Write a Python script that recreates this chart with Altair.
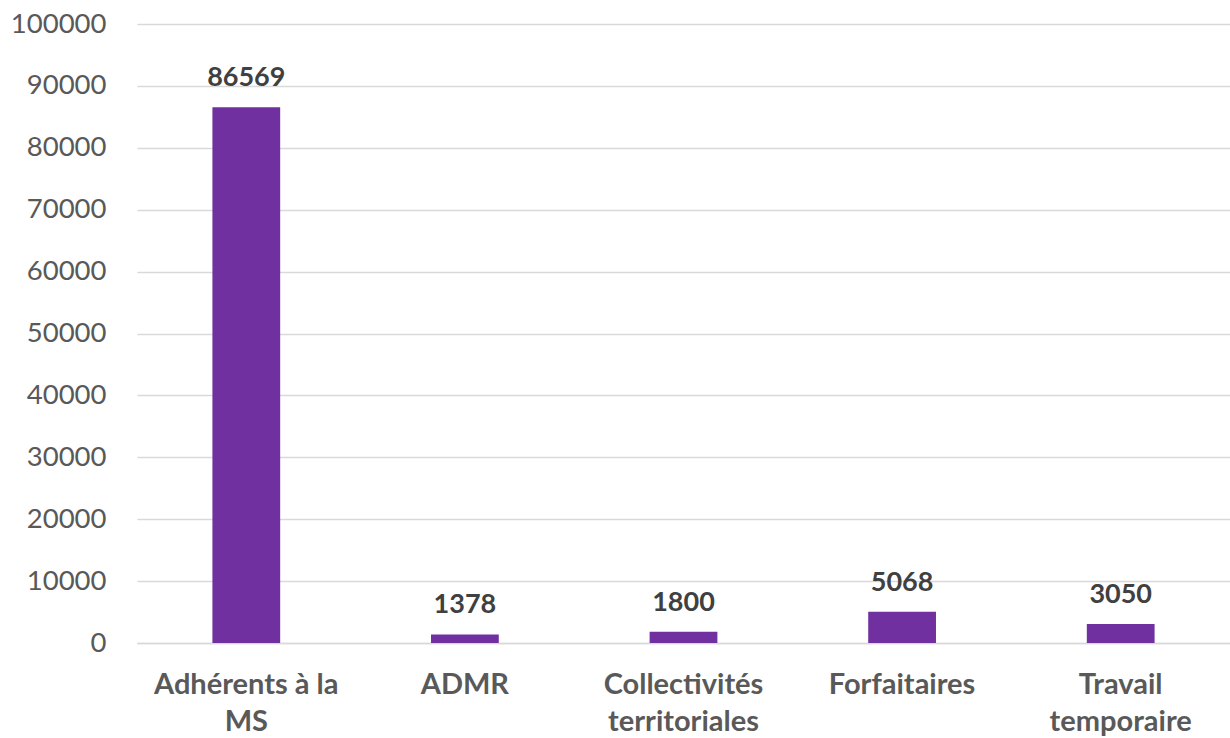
import altair as alt
import pandas as pd

categories = ["Adhérents à la|MS", "ADMR", "Collectivités|territoriales", "Forfaitaires", "Travail|temporaire"]
values = [86569, 1378, 1800, 5068, 3050]

df = pd.DataFrame({"cat": categories, "val": values})

FONT = "Lato"

base = alt.Chart(df).encode(
    x=alt.X("cat:N", sort=None, title=None,
            scale=alt.Scale(paddingInner=0.69, paddingOuter=0.345),
            axis=alt.Axis(labelAngle=0, labelFontSize=29, labelFontWeight="bold",
                          labelColor="#595959", labelFont=FONT, labelPadding=27,
                          labelLineHeight=37, labelExpr="split(datum.label, '|')",
                          labelLimit=0, ticks=False, domainColor="#D9D9D9", domainWidth=1.5,
                          labelBaseline="top")),
    y=alt.Y("val:Q", title=None,
            scale=alt.Scale(domain=[0, 100000]),
            axis=alt.Axis(values=list(range(0, 100001, 10000)), labelFontSize=27.5,
                          labelColor="#595959", labelFont=FONT, labelPadding=31,
                          ticks=False, domain=False, gridColor="#D9D9D9", gridWidth=1.5,
                          format="d")),
)

bars = base.mark_bar(color="#7030A0")
labels = base.mark_text(baseline="alphabetic", dy=-21, fontSize=27, fontWeight="bold",
                        color="#404040", font=FONT).encode(text="val:Q")

chart = (bars + labels).properties(
    width=1093, height=619,
    padding={"left": 137, "top": 24, "right": 0, "bottom": 95},
    autosize=alt.AutoSizeParams(type="none"),
).configure_view(stroke=None)

chart.save("out.html", embed_options={"renderer": "svg", "actions": False})
